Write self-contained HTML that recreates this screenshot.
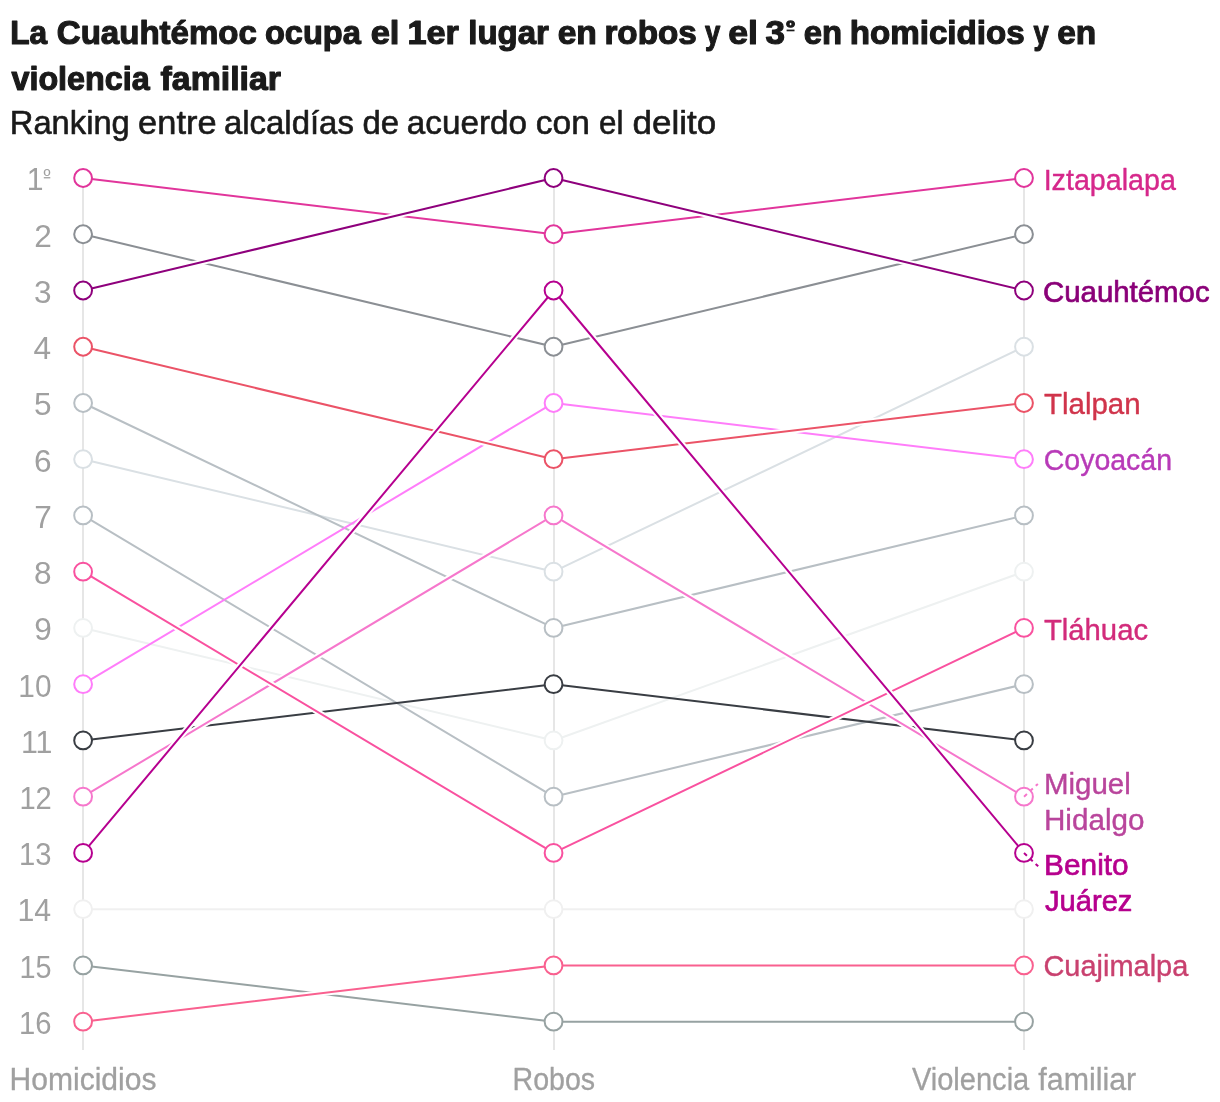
<!DOCTYPE html>
<html lang="es"><head><meta charset="utf-8"><title>La Cuauhtémoc ocupa el 1er lugar en robos</title>
<style>html,body{margin:0;padding:0;background:#fff}body{width:1220px;height:1102px;overflow:hidden}svg{display:block}text{font-family:"Liberation Sans",sans-serif;white-space:pre}</style></head><body>
<svg width="1220" height="1102" viewBox="0 0 1220 1102">
<rect width="1220" height="1102" fill="#fff"/>
<g class="title">
<text y="44.00" font-size="34.00" font-weight="bold" fill="#1a1a1a" stroke="#1a1a1a" stroke-width="1.2" stroke-linejoin="round"><tspan x="10.28" textLength="36.92" lengthAdjust="spacingAndGlyphs">La</tspan> <tspan x="56.85" textLength="200.02" lengthAdjust="spacingAndGlyphs">Cuauhtémoc</tspan> <tspan x="264.93" textLength="95.86" lengthAdjust="spacingAndGlyphs">ocupa</tspan> <tspan x="370.65" textLength="28.79" lengthAdjust="spacingAndGlyphs">el</tspan> <tspan x="407.44" textLength="51.48" lengthAdjust="spacingAndGlyphs">1er</tspan> <tspan x="468.30" textLength="80.60" lengthAdjust="spacingAndGlyphs">lugar</tspan> <tspan x="557.69" textLength="39.19" lengthAdjust="spacingAndGlyphs">en</tspan> <tspan x="604.41" textLength="92.36" lengthAdjust="spacingAndGlyphs">robos</tspan> <tspan x="704.89" textLength="15.26" lengthAdjust="spacingAndGlyphs">y</tspan> <tspan x="728.21" textLength="29.71" lengthAdjust="spacingAndGlyphs">el</tspan> <tspan x="765.60" textLength="19.47" lengthAdjust="spacingAndGlyphs">3</tspan><tspan x="786.19" dy="-9.60" font-size="19.5" textLength="8.51" lengthAdjust="spacingAndGlyphs">º</tspan> <tspan x="803.72" dy="9.60" textLength="38.32" lengthAdjust="spacingAndGlyphs">en</tspan> <tspan x="849.68" textLength="175.08" lengthAdjust="spacingAndGlyphs">homicidios</tspan> <tspan x="1033.39" textLength="15.16" lengthAdjust="spacingAndGlyphs">y</tspan> <tspan x="1057.30" textLength="38.98" lengthAdjust="spacingAndGlyphs">en</tspan></text>
<text y="90.10" font-size="34.00" font-weight="bold" fill="#1a1a1a" stroke="#1a1a1a" stroke-width="1.2" stroke-linejoin="round"><tspan x="11.47" textLength="138.12" lengthAdjust="spacingAndGlyphs">violencia</tspan> <tspan x="160.62" textLength="120.29" lengthAdjust="spacingAndGlyphs">familiar</tspan></text>
<rect x="786.6" y="29.6" width="7.9" height="1.7" fill="#1a1a1a"/>
</g>
<g class="subtitle">
<text y="134.00" font-size="33.20" font-weight="normal" fill="#1a1a1a" stroke="#1a1a1a" stroke-width="0.6" stroke-linejoin="round"><tspan x="9.82" textLength="119.99" lengthAdjust="spacingAndGlyphs">Ranking</tspan> <tspan x="138.14" textLength="78.49" lengthAdjust="spacingAndGlyphs">entre</tspan> <tspan x="223.90" textLength="129.99" lengthAdjust="spacingAndGlyphs">alcaldías</tspan> <tspan x="362.52" textLength="36.65" lengthAdjust="spacingAndGlyphs">de</tspan> <tspan x="406.89" textLength="120.21" lengthAdjust="spacingAndGlyphs">acuerdo</tspan> <tspan x="535.88" textLength="54.00" lengthAdjust="spacingAndGlyphs">con</tspan> <tspan x="598.97" textLength="24.43" lengthAdjust="spacingAndGlyphs">el</tspan> <tspan x="632.43" textLength="83.74" lengthAdjust="spacingAndGlyphs">delito</tspan></text>
</g>
<g class="grid" stroke="#e6e6e6" stroke-width="2" shape-rendering="crispEdges">
<line x1="83" y1="170.0" x2="83" y2="1050"/>
<line x1="554" y1="170.0" x2="554" y2="1050"/>
<line x1="1024" y1="170.0" x2="1024" y2="1050"/>
</g>
<g class="yaxis">
<text y="190.30" font-size="31" fill="#a0a0a0"><tspan x="26.70" textLength="16.77" lengthAdjust="spacingAndGlyphs">1</tspan><tspan x="43.55" dy="-8.2" font-size="19.4" textLength="6.99" lengthAdjust="spacingAndGlyphs">º</tspan></text>
<rect x="43.8" y="177.10" width="6.5" height="1.3" fill="#a0a0a0"/>
<text y="246.55" font-size="31.00" font-weight="normal" fill="#a0a0a0"><tspan x="34.30" textLength="17.59" lengthAdjust="spacingAndGlyphs">2</tspan></text>
<text y="302.79" font-size="31.00" font-weight="normal" fill="#a0a0a0"><tspan x="34.10" textLength="17.59" lengthAdjust="spacingAndGlyphs">3</tspan></text>
<text y="359.04" font-size="31.00" font-weight="normal" fill="#a0a0a0"><tspan x="33.64" textLength="17.59" lengthAdjust="spacingAndGlyphs">4</tspan></text>
<text y="415.28" font-size="31.00" font-weight="normal" fill="#a0a0a0"><tspan x="34.04" textLength="17.59" lengthAdjust="spacingAndGlyphs">5</tspan></text>
<text y="471.52" font-size="31.00" font-weight="normal" fill="#a0a0a0"><tspan x="34.10" textLength="17.59" lengthAdjust="spacingAndGlyphs">6</tspan></text>
<text y="527.77" font-size="31.00" font-weight="normal" fill="#a0a0a0"><tspan x="34.30" textLength="17.59" lengthAdjust="spacingAndGlyphs">7</tspan></text>
<text y="584.01" font-size="31.00" font-weight="normal" fill="#a0a0a0"><tspan x="34.09" textLength="17.59" lengthAdjust="spacingAndGlyphs">8</tspan></text>
<text y="640.26" font-size="31.00" font-weight="normal" fill="#a0a0a0"><tspan x="34.21" textLength="17.59" lengthAdjust="spacingAndGlyphs">9</tspan></text>
<text y="696.50" font-size="31.00" font-weight="normal" fill="#a0a0a0"><tspan x="18.33" textLength="33.13" lengthAdjust="spacingAndGlyphs">10</tspan></text>
<text y="752.75" font-size="31.00" font-weight="normal" fill="#a0a0a0"><tspan x="20.89" textLength="31.49" lengthAdjust="spacingAndGlyphs">11</tspan></text>
<text y="808.99" font-size="31.00" font-weight="normal" fill="#a0a0a0"><tspan x="19.38" textLength="32.38" lengthAdjust="spacingAndGlyphs">12</tspan></text>
<text y="865.24" font-size="31.00" font-weight="normal" fill="#a0a0a0"><tspan x="19.07" textLength="32.51" lengthAdjust="spacingAndGlyphs">13</tspan></text>
<text y="921.48" font-size="31.00" font-weight="normal" fill="#a0a0a0"><tspan x="17.49" textLength="33.69" lengthAdjust="spacingAndGlyphs">14</tspan></text>
<text y="977.73" font-size="31.00" font-weight="normal" fill="#a0a0a0"><tspan x="19.40" textLength="32.11" lengthAdjust="spacingAndGlyphs">15</tspan></text>
<text y="1033.97" font-size="31.00" font-weight="normal" fill="#a0a0a0"><tspan x="19.07" textLength="32.51" lengthAdjust="spacingAndGlyphs">16</tspan></text>
</g>
<g class="xaxis">
<text y="1090.00" font-size="30.60" font-weight="normal" fill="#a0a0a0" stroke="#a0a0a0" stroke-width="0.3" stroke-linejoin="round"><tspan x="9.48" textLength="147.05" lengthAdjust="spacingAndGlyphs">Homicidios</tspan></text>
<text y="1090.00" font-size="30.60" font-weight="normal" fill="#a0a0a0" stroke="#a0a0a0" stroke-width="0.3" stroke-linejoin="round"><tspan x="512.51" textLength="82.58" lengthAdjust="spacingAndGlyphs">Robos</tspan></text>
<text y="1090.00" font-size="30.60" font-weight="normal" fill="#a0a0a0" stroke="#a0a0a0" stroke-width="0.3" stroke-linejoin="round"><tspan x="911.92" textLength="117.33" lengthAdjust="spacingAndGlyphs">Violencia</tspan> <tspan x="1038.32" textLength="97.93" lengthAdjust="spacingAndGlyphs">familiar</tspan></text>
</g>
<g class="lines" fill="none" stroke-linejoin="round" stroke-linecap="butt">
<g class="series"><polyline points="83.10,909.18 553.55,909.18 1024.00,909.18" stroke="#f0f0f0" stroke-width="2"/></g>
<g class="series"><polyline points="83.10,627.96 553.55,740.45 1024.00,571.71" stroke="#eef1f1" stroke-width="2"/></g>
<g class="series"><polyline points="83.10,459.22 553.55,571.71 1024.00,346.74" stroke="#dae0e4" stroke-width="2"/></g>
<g class="series"><polyline points="83.10,402.98 553.55,627.96 1024.00,515.47" stroke="#b8bfc4" stroke-width="2"/></g>
<g class="series"><polyline points="83.10,515.47 553.55,796.69 1024.00,684.20" stroke="#b8bfc4" stroke-width="2"/></g>
<g class="series"><polyline points="83.10,965.43 553.55,1021.67 1024.00,1021.67" stroke="#97a2a2" stroke-width="2"/></g>
<g class="series"><polyline points="83.10,234.25 553.55,346.74 1024.00,234.25" stroke="#8b8f94" stroke-width="2"/></g>
<g class="series"><polyline points="83.10,740.45 553.55,684.20 1024.00,740.45" stroke="#393d43" stroke-width="2"/></g>
<g class="series"><polyline points="83.10,684.20 553.55,402.98 1024.00,459.22" stroke="#ff7dfa" stroke-width="2"/></g>
<g class="series"><polyline points="83.10,796.69 553.55,515.47 1024.00,796.69" stroke="#fff" stroke-width="6"/><polyline points="83.10,796.69 553.55,515.47 1024.00,796.69" stroke="#f677cc" stroke-width="2"/></g>
<g class="series"><polyline points="83.10,571.71 553.55,852.94 1024.00,627.96" stroke="#fff" stroke-width="6"/><polyline points="83.10,571.71 553.55,852.94 1024.00,627.96" stroke="#f9519f" stroke-width="2"/></g>
<g class="series"><polyline points="83.10,346.74 553.55,459.22 1024.00,402.98" stroke="#fff" stroke-width="6"/><polyline points="83.10,346.74 553.55,459.22 1024.00,402.98" stroke="#eb5367" stroke-width="2"/></g>
<g class="series"><polyline points="83.10,1021.67 553.55,965.43 1024.00,965.43" stroke="#fff" stroke-width="6"/><polyline points="83.10,1021.67 553.55,965.43 1024.00,965.43" stroke="#f9608f" stroke-width="2"/></g>
<g class="series"><polyline points="83.10,178.00 553.55,234.25 1024.00,178.00" stroke="#fff" stroke-width="6"/><polyline points="83.10,178.00 553.55,234.25 1024.00,178.00" stroke="#e1359b" stroke-width="2"/></g>
<g class="series"><polyline points="83.10,290.49 553.55,178.00 1024.00,290.49" stroke="#fff" stroke-width="6"/><polyline points="83.10,290.49 553.55,178.00 1024.00,290.49" stroke="#8e007c" stroke-width="2"/></g>
<g class="series"><polyline points="83.10,852.94 553.55,290.49 1024.00,852.94" stroke="#fff" stroke-width="6"/><polyline points="83.10,852.94 553.55,290.49 1024.00,852.94" stroke="#b6008f" stroke-width="2"/></g>
</g>
<g class="symbols" fill="#fff" stroke-width="2">
<circle cx="83.10" cy="909.18" r="8.9" stroke="#f0f0f0"/>
<circle cx="553.55" cy="909.18" r="8.9" stroke="#f0f0f0"/>
<circle cx="1024.00" cy="909.18" r="8.9" stroke="#f0f0f0"/>
<circle cx="83.10" cy="627.96" r="8.9" stroke="#eef1f1"/>
<circle cx="553.55" cy="740.45" r="8.9" stroke="#eef1f1"/>
<circle cx="1024.00" cy="571.71" r="8.9" stroke="#eef1f1"/>
<circle cx="83.10" cy="459.22" r="8.9" stroke="#dae0e4"/>
<circle cx="553.55" cy="571.71" r="8.9" stroke="#dae0e4"/>
<circle cx="1024.00" cy="346.74" r="8.9" stroke="#dae0e4"/>
<circle cx="83.10" cy="402.98" r="8.9" stroke="#b8bfc4"/>
<circle cx="553.55" cy="627.96" r="8.9" stroke="#b8bfc4"/>
<circle cx="1024.00" cy="515.47" r="8.9" stroke="#b8bfc4"/>
<circle cx="83.10" cy="515.47" r="8.9" stroke="#b8bfc4"/>
<circle cx="553.55" cy="796.69" r="8.9" stroke="#b8bfc4"/>
<circle cx="1024.00" cy="684.20" r="8.9" stroke="#b8bfc4"/>
<circle cx="83.10" cy="965.43" r="8.9" stroke="#97a2a2"/>
<circle cx="553.55" cy="1021.67" r="8.9" stroke="#97a2a2"/>
<circle cx="1024.00" cy="1021.67" r="8.9" stroke="#97a2a2"/>
<circle cx="83.10" cy="234.25" r="8.9" stroke="#8b8f94"/>
<circle cx="553.55" cy="346.74" r="8.9" stroke="#8b8f94"/>
<circle cx="1024.00" cy="234.25" r="8.9" stroke="#8b8f94"/>
<circle cx="83.10" cy="740.45" r="8.9" stroke="#393d43"/>
<circle cx="553.55" cy="684.20" r="8.9" stroke="#393d43"/>
<circle cx="1024.00" cy="740.45" r="8.9" stroke="#393d43"/>
<circle cx="83.10" cy="684.20" r="8.9" stroke="#ff7dfa"/>
<circle cx="553.55" cy="402.98" r="8.9" stroke="#ff7dfa"/>
<circle cx="1024.00" cy="459.22" r="8.9" stroke="#ff7dfa"/>
<circle cx="83.10" cy="796.69" r="8.9" stroke="#f677cc"/>
<circle cx="553.55" cy="515.47" r="8.9" stroke="#f677cc"/>
<circle cx="1024.00" cy="796.69" r="8.9" stroke="#f677cc"/>
<circle cx="83.10" cy="571.71" r="8.9" stroke="#f9519f"/>
<circle cx="553.55" cy="852.94" r="8.9" stroke="#f9519f"/>
<circle cx="1024.00" cy="627.96" r="8.9" stroke="#f9519f"/>
<circle cx="83.10" cy="346.74" r="8.9" stroke="#eb5367"/>
<circle cx="553.55" cy="459.22" r="8.9" stroke="#eb5367"/>
<circle cx="1024.00" cy="402.98" r="8.9" stroke="#eb5367"/>
<circle cx="83.10" cy="1021.67" r="8.9" stroke="#f9608f"/>
<circle cx="553.55" cy="965.43" r="8.9" stroke="#f9608f"/>
<circle cx="1024.00" cy="965.43" r="8.9" stroke="#f9608f"/>
<circle cx="83.10" cy="178.00" r="8.9" stroke="#e1359b"/>
<circle cx="553.55" cy="234.25" r="8.9" stroke="#e1359b"/>
<circle cx="1024.00" cy="178.00" r="8.9" stroke="#e1359b"/>
<circle cx="83.10" cy="290.49" r="8.9" stroke="#8e007c"/>
<circle cx="553.55" cy="178.00" r="8.9" stroke="#8e007c"/>
<circle cx="1024.00" cy="290.49" r="8.9" stroke="#8e007c"/>
<circle cx="83.10" cy="852.94" r="8.9" stroke="#b6008f"/>
<circle cx="553.55" cy="290.49" r="8.9" stroke="#b6008f"/>
<circle cx="1024.00" cy="852.94" r="8.9" stroke="#b6008f"/>
</g>
<g class="connectors" fill="none" stroke-width="2" stroke-dasharray="4 4">
<line x1="1024.00" y1="796.69" x2="1037.90" y2="783.90" stroke="#f677cc"/>
<line x1="1024.00" y1="852.94" x2="1038.20" y2="866.30" stroke="#b6008f"/>
</g>
<g class="labels">
<text y="469.50" font-size="30.00" font-weight="normal" fill="#b83ab8" stroke="#b83ab8" stroke-width="0.4" stroke-linejoin="round"><tspan x="1043.75" textLength="128.30" lengthAdjust="spacingAndGlyphs">Coyoacán</tspan></text>
<text y="793.90" font-size="30.00" font-weight="normal" fill="#b9459c" stroke="#b9459c" stroke-width="0.4" stroke-linejoin="round"><tspan x="1043.98" textLength="86.79" lengthAdjust="spacingAndGlyphs">Miguel</tspan></text>
<text y="829.60" font-size="30.00" font-weight="normal" fill="#b9459c" stroke="#b9459c" stroke-width="0.4" stroke-linejoin="round"><tspan x="1043.97" textLength="100.47" lengthAdjust="spacingAndGlyphs">Hidalgo</tspan></text>
<text y="640.00" font-size="30.00" font-weight="normal" fill="#d22b7b" stroke="#d22b7b" stroke-width="0.4" stroke-linejoin="round"><tspan x="1043.94" textLength="104.13" lengthAdjust="spacingAndGlyphs">Tláhuac</tspan></text>
<text y="414.20" font-size="30.00" font-weight="normal" fill="#d0344b" stroke="#d0344b" stroke-width="0.4" stroke-linejoin="round"><tspan x="1043.94" textLength="96.68" lengthAdjust="spacingAndGlyphs">Tlalpan</tspan></text>
<text y="975.70" font-size="30.00" font-weight="normal" fill="#c9416f" stroke="#c9416f" stroke-width="0.4" stroke-linejoin="round"><tspan x="1043.43" textLength="144.87" lengthAdjust="spacingAndGlyphs">Cuajimalpa</tspan></text>
<text y="189.80" font-size="30.00" font-weight="normal" fill="#d6288b" stroke="#d6288b" stroke-width="0.4" stroke-linejoin="round"><tspan x="1043.66" textLength="132.24" lengthAdjust="spacingAndGlyphs">Iztapalapa</tspan></text>
<text y="301.50" font-size="30.00" font-weight="normal" fill="#8a0078" stroke="#8a0078" stroke-width="0.7" stroke-linejoin="round"><tspan x="1043.06" textLength="166.57" lengthAdjust="spacingAndGlyphs">Cuauhtémoc</tspan></text>
<text y="875.30" font-size="30.00" font-weight="normal" fill="#b6008d" stroke="#b6008d" stroke-width="0.7" stroke-linejoin="round"><tspan x="1044.11" textLength="84.50" lengthAdjust="spacingAndGlyphs">Benito</tspan></text>
<text y="911.00" font-size="30.00" font-weight="normal" fill="#b6008d" stroke="#b6008d" stroke-width="0.7" stroke-linejoin="round"><tspan x="1044.99" textLength="87.41" lengthAdjust="spacingAndGlyphs">Juárez</tspan></text>
</g>
</svg></body></html>
